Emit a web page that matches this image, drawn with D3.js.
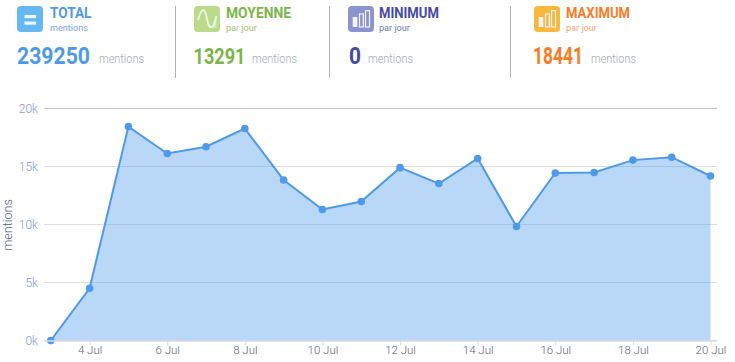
<!DOCTYPE html>
<html><head><meta charset="utf-8">
<script src="https://cdn.jsdelivr.net/npm/d3@7/dist/d3.min.js"></script>
<style>
html,body{margin:0;padding:0;background:#fff;overflow:hidden}
text{font-family:Roboto,"Noto Sans",sans-serif}
</style></head><body><svg id="c" width="735" height="362"></svg>
<script>
const days=[3,4,5,6,7,8,9,10,11,12,13,14,15,16,17,18,19,20];
const mentions=[0,4500,18441,16120,16700,18270,13840,11290,11980,14900,13530,15690,9830,14440,14480,15550,15800,14180];
const yTicks=[0,5000,10000,15000,20000];
const xTicks=[4,6,8,10,12,14,16,18,20];
const cardTitles=["TOTAL","MOYENNE","MINIMUM","MAXIMUM"];
const cardSubs=["mentions","par jour","par jour","par jour"];
const cardValues=["239250","13291","0","18441"];
const cardUnit="mentions";

const svg=d3.select("#c");
const x=d3.scaleLinear().domain([3,20]).range([50.8,710.5]);
const y=d3.scaleLinear().domain([0,20000]).range([340.5,108.5]);

// grid
const gridColor=v=>v===20000?"#c4c4c4":"#dedede";
svg.append("g").selectAll("line").data(yTicks).join("line")
 .attr("x1",44).attr("x2",717).attr("y1",d=>y(d)).attr("y2",d=>y(d))
 .attr("stroke",gridColor).attr("stroke-width",1.2);

// area + line
const pts=days.map((d,i)=>[d,mentions[i]]);
svg.append("path").datum(pts)
 .attr("d",d3.area().x(d=>x(d[0])).y0(y(0)).y1(d=>y(d[1])))
 .attr("fill","#4f9ae8").attr("fill-opacity",.4);
svg.append("path").datum(pts)
 .attr("d",d3.line().x(d=>x(d[0])).y(d=>y(d[1])))
 .attr("fill","none").attr("stroke","#4f9ae8").attr("stroke-width",2);
svg.append("g").selectAll("circle").data(pts).join("circle")
 .attr("cx",d=>x(d[0])).attr("cy",d=>y(d[1])).attr("r",3.8).attr("fill","#4f9ae8");

// x axis
const gx=svg.append("g").attr("transform","translate(0,340.5)")
 .call(d3.axisBottom(x).tickValues(xTicks).tickFormat(d=>d+" Jul").tickSize(5).tickPadding(0));
gx.select(".domain").remove();
gx.selectAll("line").attr("stroke","#d8dbe6");
gx.selectAll("text").attr("fill","#5f5f78").attr("font-size",11.5).attr("font-weight",300);
svg.append("line").attr("x1",44).attr("x2",717).attr("y1",341).attr("y2",341).attr("stroke","#d8dbe6").attr("stroke-width",1.5);

// y axis
const gy=svg.append("g").attr("transform","translate(38,0)")
 .call(d3.axisLeft(y).tickValues(yTicks).tickFormat(d=>(d/1000)+"k").tickSize(0).tickPadding(0));
gy.select(".domain").remove();
gy.selectAll("text").attr("fill","#7f97dc").attr("font-size",12).attr("font-weight",300);
svg.append("text").attr("transform","translate(12,225) rotate(-90)").attr("text-anchor","middle")
 .attr("font-size",12.5).attr("font-weight",300).attr("fill","#4f6390").text("mentions");

// cards
const cardColors=[
 {icon:"#66b8f2",title:"#4f9ae8",sub:"#7ea6e2",value:"#4f9ae8"},
 {icon:"#b8dc8a",title:"#7db548",sub:"#a3c46c",value:"#7db548"},
 {icon:"#8c93d2",title:"#4549a8",sub:"#6c7fc0",value:"#4549a8"},
 {icon:"#f9b83c",title:"#fb7c25",sub:"#f5a878",value:"#fb7c25"}];
const cardIconX=[17,194,348,534], cardTitleX=[50,226,379,566], cardValueX=[17,193.5,349,533];
const titleW=[41.5,65,60,64], subW=[38,31,31,31], valueW=[73,52,12,50], unitX=[99,252,368,591];
const seps=[175.5,329.5,510.5];
svg.append("g").selectAll("line").data(seps).join("line")
 .attr("x1",d=>d).attr("x2",d=>d).attr("y1",6).attr("y2",78).attr("stroke","#b4b4b4").attr("stroke-width",1);

// squeeze a text horizontally to its measured width in the reference
function fit(sel,px,py,w){
 const n=sel.node().getComputedTextLength();
 return sel.attr("transform",`translate(${px},${py}) scale(${w/n},1)`);
}
cardTitles.forEach((t,i)=>{
 const c=cardColors[i], ix=cardIconX[i], g=svg.append("g");
 g.append("rect").attr("x",ix).attr("y",6).attr("width",26).attr("height",26).attr("rx",4).attr("fill",c.icon);
 if(i===0){
  [15,21.5].forEach(yy=>g.append("rect").attr("x",ix+7.5).attr("y",yy).attr("width",11.5).attr("height",3.2).attr("fill","#eaf5fd"));
 } else if(i===1){
  g.append("path").attr("d",`M${ix+13} 19C${ix+15} 29 ${ix+19} 31 ${ix+22.5} 16L${ix+22.5} 28 ${ix+15} 28Z`).attr("fill","#eef7e2").attr("fill-opacity",.55);
  g.append("path").attr("d",`M${ix+4} 20C${ix+8} 6 ${ix+11} 8 ${ix+13} 19S${ix+19} 31 ${ix+22.5} 16`)
   .attr("fill","none").attr("stroke","#f2f9e8").attr("stroke-width",1.8);
 } else {
  [[4.7,17,4.6,10,true],[11.5,14,3.8,13,false],[17.5,10.7,4,16.3,false]].forEach(b=>{
   g.append("rect").attr("x",ix+b[0]).attr("y",b[1]).attr("width",b[2]).attr("height",b[3])
    .attr("fill",b[4]?"#f5f5fb":"none").attr("stroke","#f5f5fb").attr("stroke-width",b[4]?0:1.2);
  });
 }
 fit(g.append("text").attr("font-size",15.5).attr("font-weight",700).attr("fill",c.title).text(t),cardTitleX[i],18,titleW[i]);
 fit(g.append("text").attr("font-size",9.5).attr("fill",c.sub).text(cardSubs[i]),cardTitleX[i],30.5,subW[i]);
 fit(g.append("text").attr("font-size",23).attr("font-weight",700).attr("fill",c.value).text(cardValues[i]),cardValueX[i],63.5,valueW[i]);
 fit(g.append("text").attr("font-size",12).attr("font-weight",300).attr("fill","#a2a8b6").text(cardUnit),unitX[i],63,45);
});
</script></body></html>
